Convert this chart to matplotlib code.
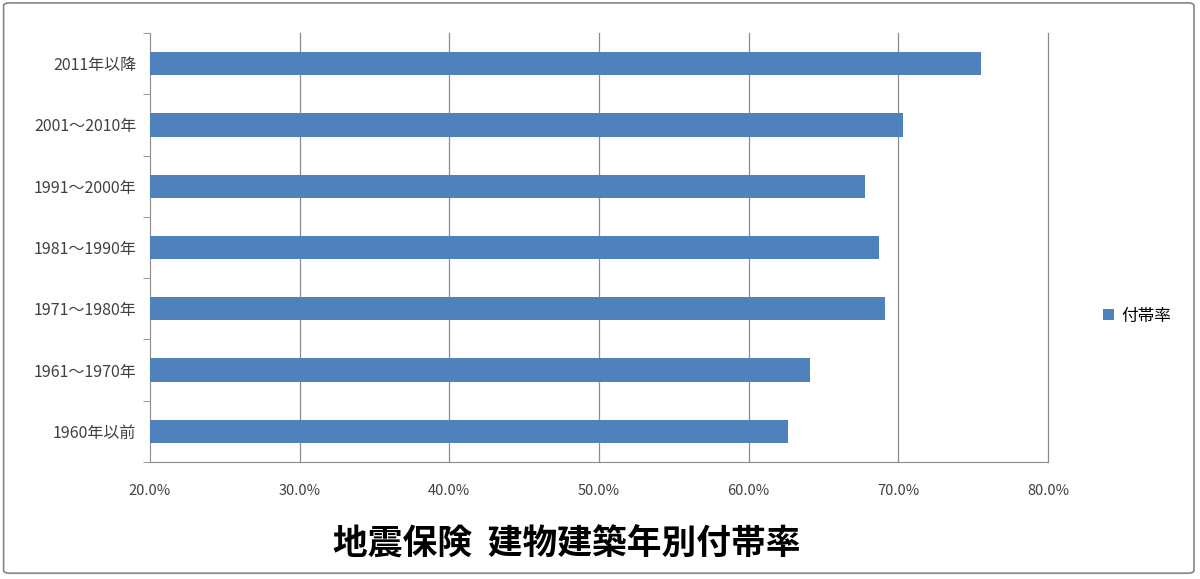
import matplotlib.pyplot as plt
from matplotlib.patches import FancyBboxPatch

plt.rcParams['font.family'] = ['Noto Sans CJK JP', 'DejaVu Sans']

# data (bottom to top)
categories = ['1960年以前', '1961～1970年', '1971～1980年', '1981～1990年',
              '1991～2000年', '2001～2010年', '2011年以降']
rates = [62.6, 64.1, 69.1, 68.7, 67.8, 70.3, 75.5]
x_ticks = [20, 30, 40, 50, 60, 70, 80]
bar_color = '#4F81BD'

fig = plt.figure(figsize=(12, 5.79), dpi=100)
ax = fig.add_axes([0.125, 0.2021, 0.7483, 0.7409])

ax.barh(range(len(categories)), rates, height=0.38, color=bar_color,
        label='付帯率', zorder=3)

ax.set_xlim(20, 80)
ax.set_ylim(-0.5, len(categories) - 0.5)
ax.set_xticks(x_ticks)
ax.set_xticklabels([f'{t:.1f}%' for t in x_ticks], fontsize=10.5, color='#404040')
ax.set_yticks(range(len(categories)))
ax.set_yticklabels(categories, fontsize=11.5, color='#404040')

# category boundary ticks on the y axis, none at label positions
ax.tick_params(axis='y', length=0, pad=10)
ax.set_yticks([i - 0.5 for i in range(len(categories) + 1)], minor=True)
ax.tick_params(axis='y', which='minor', length=5, color='#868686')
ax.tick_params(axis='x', length=0, pad=16)

for t in x_ticks[1:]:
    ax.axvline(t, color='#8c8c8c', linewidth=0.9, zorder=0, clip_on=False)
for side in ['top', 'right']:
    ax.spines[side].set_visible(False)
for side in ['left', 'bottom']:
    ax.spines[side].set_color('#8c8c8c')

leg = ax.legend(loc='center left', bbox_to_anchor=(1.045, 0.34), frameon=False,
                handlelength=0.65, handleheight=0.65, handletextpad=0.4,
                fontsize=12)

fig.text(0.4725, 0.06, '地震保険  建物建築年別付帯率', ha='center', va='center',
         fontsize=25, fontweight='bold')

# outer chart frame
frame = FancyBboxPatch((0.003, 0.01), 0.992, 0.985, boxstyle='round,pad=0,rounding_size=0.005',
                       transform=fig.transFigure, fill=False, edgecolor='#868686',
                       linewidth=1.2)
fig.patches.append(frame)

fig.savefig('out.png', dpi=100)
